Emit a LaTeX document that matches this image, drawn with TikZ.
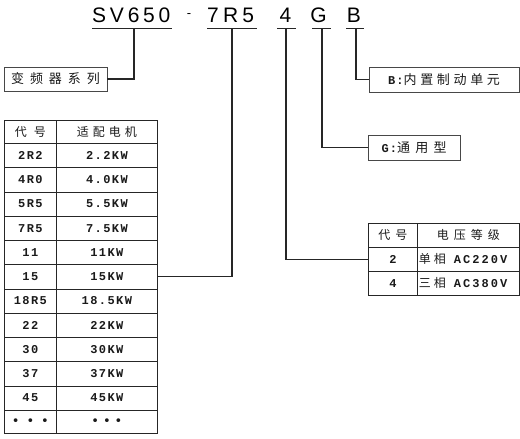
\documentclass[tikz,border=0pt]{standalone}
\usepackage{fontspec}
\setmainfont{Liberation Mono}
\newfontfamily\cjk{Noto Sans CJK SC}
\newfontfamily\lat{Liberation Mono}
\newfontfamily\hd{Liberation Sans}
\newfontfamily\dv{DejaVu Sans}
\newcommand\ls[1]{\addfontfeature{LetterSpace=#1}}
\newcommand\fs[1]{\fontsize{#1}{#1}\selectfont}
\definecolor{linec}{HTML}{262626}
\definecolor{txt}{HTML}{1A1A1A}
\tikzset{
  cell/.style={draw=linec, line width=0.8pt, inner sep=0pt, text=txt, anchor=north west},
  lbox/.style={draw=linec!85, line width=0.8pt, inner sep=0pt, text=txt},
  hdtxt/.style={inner sep=0pt, anchor=base west, text=black, font=\hd\fs{21}},
  conn/.style={draw=linec, line width=1.1pt},
  uline/.style={draw=linec, line width=1pt},
}
\begin{document}
\begin{tikzpicture}[x=1pt,y=-1pt]
\useasboundingbox (0,0) rectangle (520,439);
% heading
\node[hdtxt] (sv) at (92,22) {\ls{18}SV650};
\node[inner sep=0pt, text=black, font=\hd\fs{13}] (dash) at (189,16) {-};
\node[hdtxt] (rr) at (207,22) {\ls{20}7R5};
\node[hdtxt, anchor=base] (four) at (285.5,22) {4};
\node[hdtxt, anchor=base] (gg) at (318.5,22) {G};
\node[hdtxt, anchor=base] (bb) at (354,22) {B};
\coordinate (svl) at (92,28);  \coordinate (svr) at (172,28);
\coordinate (rrl) at (207,28); \coordinate (rrr) at (257,28);
\coordinate (fol) at (277,28); \coordinate (for) at (296,28);
\coordinate (ggl) at (312,28); \coordinate (ggr) at (331,28);
\coordinate (bbl) at (346,28); \coordinate (bbr) at (364,28);
\draw[uline] (svl) -- (svr);
\draw[uline] (rrl) -- (rrr);
\draw[uline] (fol) -- (for);
\draw[uline] (ggl) -- (ggr);
\draw[uline] (bbl) -- (bbr);
\coordinate (svc) at (134,28);
\coordinate (rrc) at (232,28);
\coordinate (foc) at (286,28);
\coordinate (ggc) at (322,28);
\coordinate (bbc) at (356,28);
% label boxes
\node[lbox, minimum width=103pt, minimum height=24pt] (fam) at (55.5,79) {\cjk\fs{13}\ls{46}变频器系列};
\node[lbox, minimum width=150pt, minimum height=25pt] (bbox) at (444,79.5) {{\lat\bfseries\fs{12}\ls{10}B:}{\cjk\fs{13}\ls{28}内置制动单元}};
\node[lbox, minimum width=92pt, minimum height=25pt] (gbox) at (414,147.5) {{\lat\bfseries\fs{12}\ls{10}G:}{\cjk\fs{13}\ls{40}通用型}};
% left table
\node[cell, minimum width=52pt, minimum height=23pt] (ha) at (4,120) {\cjk\fs{12}\ls{60}代号};
\node[cell, minimum width=101pt, minimum height=23pt] (hb) at (56,120) {\cjk\fs{12}\ls{33}适配电机};
\foreach \a/\b [count=\i] in {2R2/2.2KW,4R0/4.0KW,5R5/5.5KW,7R5/7.5KW,11/11KW,15/15KW,18R5/18.5KW,22/22KW,30/30KW,37/37KW,45/45KW}{
  \node[cell, minimum width=52pt, minimum height=24.25pt] (r\i a) at (4,{143+(\i-1)*24.25}) {\lat\bfseries\fs{12}\ls{12}\a};
  \node[cell, minimum width=101pt, minimum height=24.25pt] (r\i b) at (56,{143+(\i-1)*24.25}) {\lat\bfseries\fs{12}\ls{12}\b};
}
\node[cell, minimum width=52pt, minimum height=23pt] (r12a) at (4,409.75) {\dv\fs{13}•\hspace{7pt}•\hspace{7pt}•};
\node[cell, minimum width=101pt, minimum height=23pt] (r12b) at (56,409.75) {\dv\fs{13}•\hspace{4pt}•\hspace{4pt}•};
% voltage table
\node[cell, minimum width=49pt, minimum height=24pt] (va) at (368,223) {\cjk\fs{12}\ls{42}代号};
\node[cell, minimum width=102pt, minimum height=24pt] (vb) at (417,223) {\cjk\fs{12}\ls{42}电压等级};
\node[cell, minimum width=49pt, minimum height=24pt] (v2a) at (368,247) {\lat\bfseries\fs{12}2};
\node[cell, minimum width=102pt, minimum height=24pt, text width=99pt, inner xsep=1.5pt, align=left] (v2b) at (417,247) {{\cjk\fs{12}\ls{25}单相}\hspace{8pt}{\lat\bfseries\fs{12}\ls{17}AC220V}};
\node[cell, minimum width=49pt, minimum height=24pt] (v3a) at (368,271) {\lat\bfseries\fs{12}4};
\node[cell, minimum width=102pt, minimum height=24pt, text width=99pt, inner xsep=1.5pt, align=left] (v3b) at (417,271) {{\cjk\fs{12}\ls{25}三相}\hspace{8pt}{\lat\bfseries\fs{12}\ls{17}AC380V}};
% connectors
\draw[conn] (fam.east) -| (svc);
\draw[conn] (r6b.east) -| (rrc);
\draw[conn] (v2a.west) -| (foc);
\draw[conn] (gbox.west) -| (ggc);
\draw[conn] (bbox.west) -| (bbc);
\end{tikzpicture}
\end{document}
